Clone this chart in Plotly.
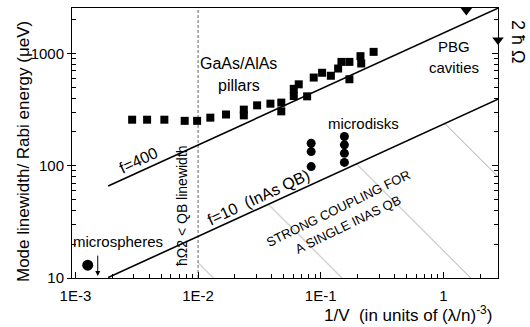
import math
import plotly.graph_objects as go

# ---------------- data ----------------
pillar_x = [0.00290, 0.00384, 0.00531, 0.00778, 0.00982, 0.01259, 0.0169, 0.0236, 0.0236,
            0.0303, 0.0389, 0.0477, 0.0477, 0.0603, 0.0662, 0.0603, 0.0775, 0.0877, 0.1026,
            0.121, 0.1387, 0.1476, 0.1714, 0.1714, 0.211, 0.214, 0.270]
pillar_y = [257, 257, 257, 251, 251, 268, 286, 281, 316,
            345, 357, 365, 305, 484, 531, 418, 415, 610, 673,
            633, 734, 841, 589, 841, 946, 814, 1033]

disk_x = [0.0836, 0.0836, 0.0836, 0.156, 0.156, 0.156, 0.156]
disk_y = [158.6, 133.7, 98.2, 182, 153.5, 129, 107]

sphere_x = [0.00126]
sphere_y = [13.0]
sphere_limit_x = [0.00152]
sphere_limit_y = [10.4]

pbg_x = [1.54, 2.79]
pbg_y = [2417, 1315]

f400_x = [0.00185, 2.79]
f400_y = [66, 2530]
f10_x = [0.00185, 2.79]
f10_y = [10.1, 392]

qb_limit_x = [0.01, 0.01]
qb_limit_y = [10, 2540]

hatch_x = [0.01, 2.79, 2.79, 0.01]
hatch_y = [23.5, 392, 10, 10]

x_tickvals = [0.001, 0.01, 0.1, 1]
x_ticktext = ["1E-3", "1E-2", "1E-1", "1"]
y_tickvals = [10, 100, 1000]
y_ticktext = ["10", "100", "1000"]

X_RANGE = [0.001 * 10 ** (-0.028), 2.79]
Y_RANGE = [10, 2540]

FONT = "Liberation Sans, Arial, sans-serif"

# ---------------- figure ----------------
fig = go.Figure()

# hatched strong-coupling region
fig.add_trace(go.Scatter(
    x=hatch_x, y=hatch_y, mode="lines", fill="toself",
    fillcolor="rgba(0,0,0,0)", line=dict(width=0),
    fillpattern=dict(shape="\\", fgcolor="#1a1a1a", bgcolor="rgba(0,0,0,0)",
                     size=91, solidity=0.0085, fillmode="overlay"),
    hoverinfo="skip"))

# QB linewidth limit (dashed)
fig.add_trace(go.Scatter(x=qb_limit_x, y=qb_limit_y, mode="lines",
                         line=dict(color="#666666", width=1, dash="3px,2px")))

# theory lines
fig.add_trace(go.Scatter(x=f400_x, y=f400_y, mode="lines",
                         line=dict(color="black", width=1.6)))
fig.add_trace(go.Scatter(x=f10_x, y=f10_y, mode="lines",
                         line=dict(color="black", width=1.6)))

# pillars
fig.add_trace(go.Scatter(x=pillar_x, y=pillar_y, mode="markers",
                         marker=dict(symbol="square", size=8, color="black")))
# microdisks
fig.add_trace(go.Scatter(x=disk_x, y=disk_y, mode="markers",
                         marker=dict(symbol="circle", size=9, color="black")))
# microsphere
fig.add_trace(go.Scatter(x=sphere_x, y=sphere_y, mode="markers",
                         marker=dict(symbol="circle", size=11, color="black")))
# PBG cavities (right axis)
fig.add_trace(go.Scatter(x=pbg_x, y=pbg_y, mode="markers", yaxis="y2", cliponaxis=False,
                         marker=dict(symbol="triangle-down", size=10, color="black")))

L, R, T, B = 72, 32, 8, 49
W, H = 530, 327
PW, PH = W - L - R, H - T - B


def P(px, py):
    return (px - L) / PW, 1 - (py - T) / PH


ann = []


def add_text(text, px, py, size, angle=0):
    xp, yp = P(px, py)
    ann.append(dict(text=text, x=xp, y=yp, xref="paper", yref="paper",
                    showarrow=False, textangle=angle, xanchor="center", yanchor="middle",
                    font=dict(family=FONT, size=size, color="black")))


add_text("GaAs/AlAs", 238, 63, 16)
add_text("pillars", 239, 85, 16)
add_text("PBG", 454, 47, 15)
add_text("cavities", 454, 67, 15)
add_text("microdisks", 363, 123, 15)
add_text("microspheres", 118, 241, 15)
add_text("f=400", 138, 160, 16, -25)
add_text("f=10  (InAs QB)", 258, 197, 16, -25)
add_text("STRONG COUPLING FOR", 338, 208, 13, -26)
add_text("A SINGLE INAS QB", 348, 224, 13, -26)
add_text("ħΩ2 < QB linewidth", 182, 206, 14, -90)
add_text("Mode linewidth/ Rabi energy (μeV)", 23, 152, 17, -90)
add_text("1/V  (in units of (λ/n)<sup>-3</sup>)", 408, 314, 17)
add_text("2 ħ Ω", 518, 41, 18, 90)

# upper-limit arrow for the microsphere
ann.append(dict(x=math.log10(sphere_limit_x[0]), y=math.log10(sphere_limit_y[0]),
                xref="x", yref="y", text="", showarrow=True, ax=0, ay=-22,
                arrowhead=2, arrowsize=1, arrowwidth=1, arrowcolor="black"))

fig.update_layout(
    width=W, height=H,
    margin=dict(l=L, r=R, t=T, b=B),
    paper_bgcolor="white", plot_bgcolor="white",
    showlegend=False,
    annotations=ann,
    xaxis=dict(type="log", range=[math.log10(v) for v in X_RANGE],
               tickvals=x_tickvals, ticktext=x_ticktext,
               ticks="inside", ticklen=6, tickcolor="black",
               minor=dict(ticks="inside", ticklen=4, dtick="D1", tickcolor="black", showgrid=False),
               showline=True, linecolor="black", linewidth=1, mirror=True,
               showgrid=False, zeroline=False, ticklabelstandoff=4,
               tickfont=dict(family=FONT, size=15, color="black")),
    yaxis=dict(type="log", range=[math.log10(v) for v in Y_RANGE],
               tickvals=y_tickvals, ticktext=y_ticktext,
               ticks="outside", ticklen=4, tickcolor="black",
               minor=dict(ticks="inside", ticklen=4, dtick="D1", tickcolor="black", showgrid=False),
               showline=True, linecolor="black", linewidth=1, mirror=True,
               showgrid=False, zeroline=False,
               tickfont=dict(family=FONT, size=15, color="black")),
    yaxis2=dict(type="log", range=[math.log10(v) for v in Y_RANGE], overlaying="y", side="right",
                tickvals=y_tickvals, showticklabels=False,
                ticks="inside", ticklen=6, tickcolor="black",
                minor=dict(ticks="inside", ticklen=4, dtick="D1", tickcolor="black", showgrid=False),
                showline=True, linecolor="black", linewidth=1,
                showgrid=False, zeroline=False),
)

fig.write_html("out.html")
